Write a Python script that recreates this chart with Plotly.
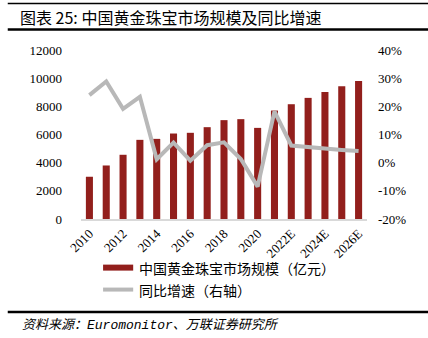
import plotly.graph_objects as go

years = ["2010", "2011", "2012", "2013", "2014", "2015", "2016", "2017", "2018",
         "2019", "2020", "2021", "2022E", "2023E", "2024E", "2025E", "2026E"]
market_size = [3000, 3800, 4560, 5620, 5690, 6070, 6120, 6520, 7020,
               7090, 6470, 7700, 8150, 8600, 9020, 9430, 9800]
yoy_growth = [24.0, 28.8, 19.1, 23.4, 1.2, 7.1, 0.7, 6.2, 7.2,
              1.3, -8.5, 18.2, 6.1, 5.5, 5.1, 4.5, 4.1]
tick_years = ["2010", "2012", "2014", "2016", "2018", "2020", "2022E", "2024E", "2026E"]
left_ticks = [0, 2000, 4000, 6000, 8000, 10000, 12000]
left_labels = ["0", "2000", "4000", "6000", "8000", "10000", "12000"]
right_ticks = [-20, -10, 0, 10, 20, 30, 40]
right_labels = ["-20%", "-10%", "0%", "10%", "20%", "30%", "40%"]

title_text = "图表 25: 中国黄金珠宝市场规模及同比增速"
bar_name = "中国黄金珠宝市场规模（亿元）"
line_name = "同比增速（右轴）"
source_text = "<i>资料来源：<span style='font-family:Liberation Mono'>Euromonitor</span>、万联证券研究所</i>"

BAR_COLOR = "#921F1C"
LINE_COLOR = "#B8B8B8"
CJK = "Noto Sans CJK SC"
SERIF = "Liberation Serif"

fig = go.Figure()
fig.add_trace(go.Bar(x=years, y=market_size, name=bar_name, marker_color=BAR_COLOR,
                     marker_line_width=0, width=0.42, yaxis="y", showlegend=False))
fig.add_trace(go.Scatter(x=years, y=yoy_growth, name=line_name, mode="lines",
                         line=dict(color=LINE_COLOR, width=4), yaxis="y2", showlegend=False))

fig.update_layout(
    width=428, height=338,
    margin=dict(l=81, r=61, t=50, b=119),
    paper_bgcolor="white", plot_bgcolor="white",
    xaxis=dict(type="category", range=[-0.5, 16.5], tickmode="array", tickvals=tick_years,
               ticktext=tick_years, tickangle=-45, showgrid=False, showline=True,
               linecolor="#D9D9D9", linewidth=2, ticks="",
               tickfont=dict(family=SERIF, size=13, color="#000")),
    yaxis=dict(range=[0, 12000], tickmode="array", tickvals=left_ticks, ticktext=left_labels,
               showgrid=False, zeroline=False, showline=False, ticks="", ticklabelstandoff=18,
               tickfont=dict(family=SERIF, size=13, color="#000")),
    yaxis2=dict(range=[-20, 40], overlaying="y", side="right", tickmode="array",
                tickvals=right_ticks, ticktext=right_labels, showgrid=False, zeroline=False,
                showline=False, ticks="", ticklabelstandoff=10,
                tickfont=dict(family=SERIF, size=13, color="#000")),
    showlegend=False,
)

def px_x(x):
    return (x - 81) / 285

def px_y(y):
    return (219.3 - y) / 169.3

# title and rules
for yy, w in [(3.5, 1.5), (29.5, 2.5), (312.5, 2.5)]:
    fig.add_shape(type="line", xref="paper", yref="paper", x0=px_x(8), x1=px_x(428),
                  y0=px_y(yy), y1=px_y(yy), line=dict(color="black", width=w))

fig.add_annotation(text=title_text, xref="paper", yref="paper", x=px_x(18), y=px_y(17),
                   xanchor="left", yanchor="middle", showarrow=False,
                   font=dict(family=CJK, size=16, color="#000"))
fig.add_annotation(text=source_text, xref="paper", yref="paper", x=px_x(20), y=px_y(324),
                   xanchor="left", yanchor="middle", showarrow=False,
                   font=dict(family=CJK, size=13, color="#000"))

# legend
fig.add_shape(type="rect", xref="paper", yref="paper", x0=px_x(103), x1=px_x(133),
              y0=px_y(271), y1=px_y(265), fillcolor=BAR_COLOR, line_width=0)
fig.add_shape(type="line", xref="paper", yref="paper", x0=px_x(103), x1=px_x(133),
              y0=px_y(290), y1=px_y(290), line=dict(color=LINE_COLOR, width=4))
fig.add_annotation(text=bar_name, xref="paper", yref="paper", x=px_x(137), y=px_y(268),
                   xanchor="left", yanchor="middle", showarrow=False,
                   font=dict(family=CJK, size=14, color="#000"))
fig.add_annotation(text=line_name, xref="paper", yref="paper", x=px_x(137), y=px_y(290),
                   xanchor="left", yanchor="middle", showarrow=False,
                   font=dict(family=CJK, size=14, color="#000"))

fig.write_html("out.html")
